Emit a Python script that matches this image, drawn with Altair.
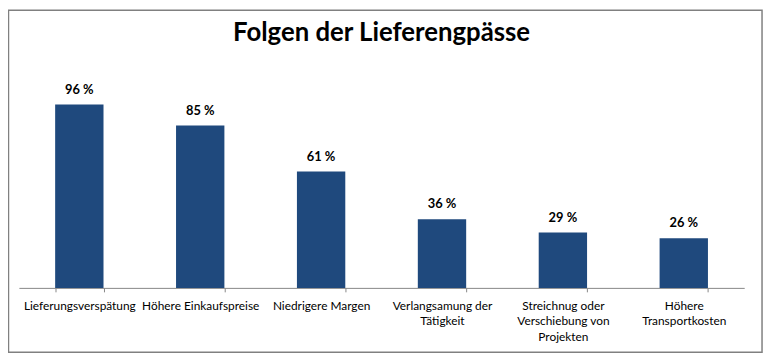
import altair as alt
import pandas as pd

categories = [
    "Lieferungsverspätung",
    "Höhere Einkaufspreise",
    "Niedrigere Margen",
    "Verlangsamung der Tätigkeit",
    "Streichnug oder Verschiebung von Projekten",
    "Höhere Transportkosten",
]
label_lines = [
    ["Lieferungsverspätung"],
    ["Höhere Einkaufspreise"],
    ["Niedrigere Margen"],
    ["Verlangsamung der", "Tätigkeit"],
    ["Streichnug oder", "Verschiebung von", "Projekten"],
    ["Höhere", "Transportkosten"],
]
values = [96, 85, 61, 36, 29, 26]
title_text = "Folgen der Lieferengpässe"

df = pd.DataFrame({"cat": categories, "value": values})

cats_js = "[" + ",".join("'" + c + "'" for c in categories) + "]"
lines_js = "[" + ",".join("[" + ",".join("'" + l + "'" for l in ls) + "]" for ls in label_lines) + "]"
label_expr = f"{lines_js}[indexof({cats_js}, datum.label)]"

FONT = "Lato"
W, H = 733, 193

x = alt.X(
    "cat:N",
    sort=categories,
    scale=alt.Scale(paddingInner=0.6, paddingOuter=0.3),
    axis=alt.Axis(
        title=None,
        labelAngle=0,
        labelExpr=label_expr,
        labelOverlap=False,
        labelLimit=300,
        labelFont=FONT,
        labelFontSize=12,
        labelColor="#000000",
        labelLineHeight=15.5,
        labelPadding=9,
        labelBaseline="top",
        tickBand="extent",
        tickSize=4,
        tickColor="#868686",
        domainColor="#868686",
        domainWidth=1,
    ),
)
y = alt.Y("value:Q", scale=alt.Scale(domain=[0, 100]), axis=None)

base = alt.Chart(df)

bars = base.mark_bar(color="#1F497D").encode(x=x, y=y)

labels = (
    base.transform_calculate(lbl="format(datum.value, 'd') + ' %'")
    .mark_text(font=FONT, fontSize=13, fontWeight="bold", color="#000000",
               baseline="alphabetic", dy=-11)
    .encode(x=x, y=y, text="lbl:N")
)

title = (
    alt.Chart(alt.Data(values=[{"t": title_text}]))
    .mark_text(font=FONT, fontSize=26, fontWeight="bold", color="#000000",
               align="center", baseline="middle", clip=False)
    .encode(x=alt.value(W / 2), y=alt.value(-65), text="t:N")
)

border = (
    alt.Chart(alt.Data(values=[{}]))
    .mark_rect(filled=False, stroke="#808080", strokeWidth=1.5, clip=False)
    .encode(
        x=alt.value(-10.5),
        x2=alt.value(751),
        y=alt.value(-87.5),
        y2=alt.value(258),
    )
)

chart = (
    alt.layer(border, bars, labels, title)
    .properties(
        width=W,
        height=H,
        padding={"left": 11, "top": 88, "right": 21, "bottom": 68},
        autosize=alt.AutoSizeParams(type="none"),
        view=alt.ViewBackground(stroke="transparent"),
    )
    .configure_view(stroke="transparent")
    .configure(background="white")
)

chart.save("out.html", embed_options={"renderer": "svg", "actions": False})
